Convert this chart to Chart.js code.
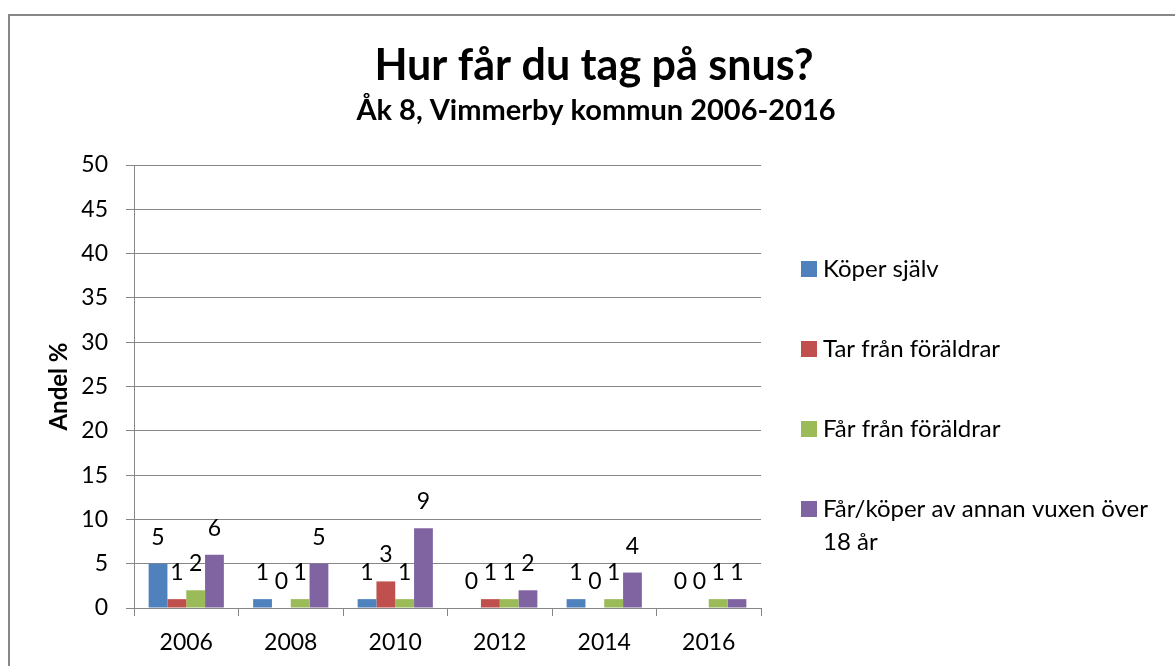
<!DOCTYPE html>
<html>
<head>
<meta charset="utf-8">
<script src="https://cdn.jsdelivr.net/npm/chart.js@4"></script>
<style>
    html, body { margin: 0; padding: 0; background: #fff; }
    #wrap { position: relative; width: 1175px; height: 666px; overflow: hidden; }
    #frame { position: absolute; left: 8px; top: 14px; width: 1300px; height: 800px; border: 2px solid #878787; }
    canvas { position: absolute; left: 0; top: 0; }
</style>
</head>
<body>
<div id="wrap">
    <div id="frame"></div>
    <canvas id="chart" width="1175" height="666"></canvas>
</div>
<script>
const years = ['2006', '2008', '2010', '2012', '2014', '2016'];
const koperSjalv = [5, 1, 1, 0, 1, 0];
const tarFranForaldrar = [1, 0, 3, 1, 0, 0];
const farFranForaldrar = [2, 1, 1, 1, 1, 1];
const farAvVuxen = [6, 5, 9, 2, 4, 1];
const seriesNames = ['Köper själv', 'Tar från föräldrar', 'Får från föräldrar', 'Får/köper av annan vuxen över\n18 år'];
const seriesColors = ['#4F81BD', '#C0504D', '#9BBB59', '#8064A2'];
const yMax = 50;
const yStep = 5;
const titleText = 'Hur får du tag på snus?';
const subtitleText = 'Åk 8, Vimmerby kommun 2006-2016';
const yTitle = 'Andel %';

const gridGray = '#868686';
Chart.defaults.font.family = 'Lato, sans-serif';

// value above each bar, like the excel data labels
const barLabels = {
    id: 'barLabels',
    afterDatasetsDraw(chart) {
        const ctx = chart.ctx;
        ctx.save();
        ctx.font = '23px Lato';
        ctx.fillStyle = '#000';
        ctx.textAlign = 'center';
        ctx.textBaseline = 'alphabetic';
        chart.data.datasets.forEach((ds, i) => {
            chart.getDatasetMeta(i).data.forEach((bar, j) => {
                ctx.fillText(String(ds.data[j]), bar.x, bar.y - 19);
            });
        });
        ctx.restore();
    }
};

const titles = {
    id: 'titles',
    afterDraw(chart) {
        const ctx = chart.ctx;
        ctx.save();
        ctx.fillStyle = '#000';
        ctx.textAlign = 'center';
        ctx.textBaseline = 'alphabetic';
        ctx.font = 'bold 43px Lato';
        ctx.fillText(titleText, 594, 80);
        ctx.font = 'bold 29px Lato';
        ctx.fillText(subtitleText, 596, 120);
        ctx.restore();
    }
};

const sideLegend = {
    id: 'sideLegend',
    afterDraw(chart) {
        const ctx = chart.ctx;
        ctx.save();
        ctx.font = '24px Lato';
        ctx.textAlign = 'left';
        ctx.textBaseline = 'alphabetic';
        chart.data.datasets.forEach((ds, i) => {
            const cy = 269 + i * 80;
            ctx.fillStyle = ds.backgroundColor;
            ctx.fillRect(801, cy - 8, 16, 16);
            ctx.fillStyle = '#000';
            ds.label.split('\n').forEach((line, k) => {
                ctx.fillText(line, 823, cy + 8 + k * 33);
            });
        });
        ctx.restore();
    }
};

const allSeries = [koperSjalv, tarFranForaldrar, farFranForaldrar, farAvVuxen];

new Chart(document.getElementById('chart'), {
    type: 'bar',
    data: {
        labels: years,
        datasets: allSeries.map((values, i) => ({
            label: seriesNames[i],
            data: values,
            backgroundColor: seriesColors[i],
            borderWidth: 0,
            categoryPercentage: 0.72,
            barPercentage: 1
        }))
    },
    options: {
        responsive: false,
        animation: false,
        layout: { padding: { left: 0, top: 165, right: 414, bottom: 0 } },
        plugins: {
            legend: { display: false },
            tooltip: { enabled: false }
        },
        scales: {
            x: {
                grid: { drawOnChartArea: false, offset: true, tickLength: 8, color: gridGray },
                border: { color: gridGray },
                ticks: { color: '#000', font: { size: 23 }, padding: 13, maxRotation: 0 },
                afterFit(scale) { scale.height = 58; }
            },
            y: {
                min: 0,
                max: yMax,
                ticks: { stepSize: yStep, color: '#000', font: { size: 23 }, padding: 18 },
                grid: { color: gridGray, tickLength: 8 },
                border: { color: gridGray },
                title: {
                    display: true,
                    text: yTitle,
                    color: '#000',
                    font: { size: 24, weight: 'bold' },
                    padding: { top: 45, bottom: 0 }
                },
                afterFit(scale) { scale.width = 134; }
            }
        }
    },
    plugins: [barLabels, titles, sideLegend]
});
</script>
</body>
</html>
